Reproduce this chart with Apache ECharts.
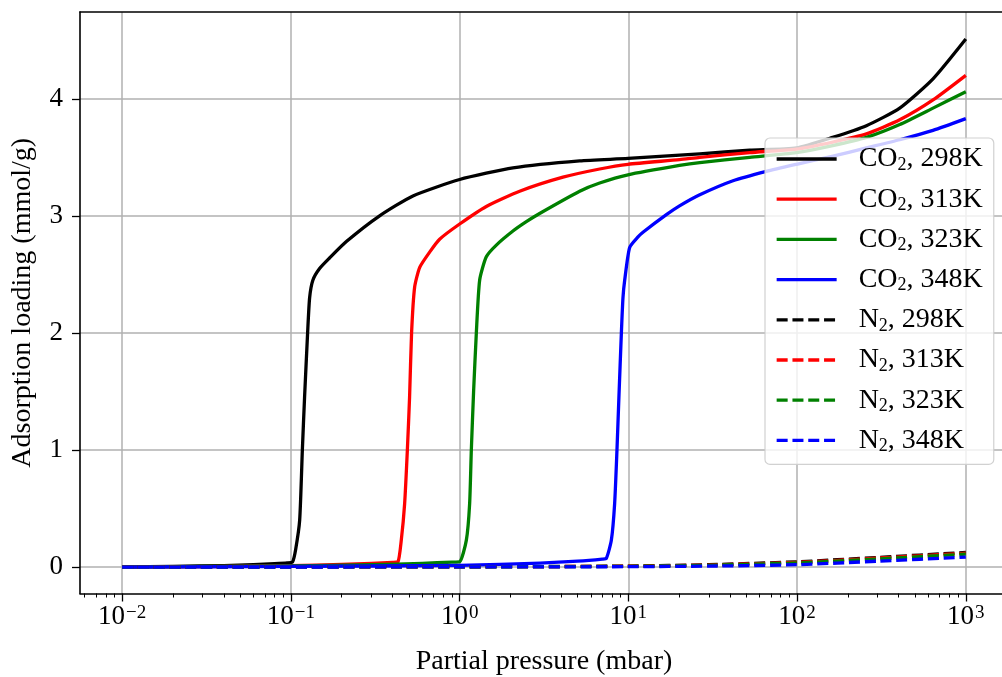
<!DOCTYPE html>
<html><head><meta charset="utf-8">
<script src="https://cdn.jsdelivr.net/npm/echarts@6/dist/echarts.min.js"></script>
<style>html,body{margin:0;padding:0;background:#fff}#c{width:1002px;height:677px}</style>
</head><body><div id="c"></div>
<script>
// [pressure (mbar), loading (mmol/g)]
const co2_298K = [[0.01,0],[0.02,0.006],[0.04,0.012],[0.06,0.02],[0.08,0.028],[0.095,0.035],[0.1023,0.045],[0.1067,0.15],[0.1127,0.40],[0.1169,1.0],[0.1205,1.45],[0.1256,2.0],[0.1291,2.30],[0.1349,2.45],[0.1479,2.55],[0.1695,2.64],[0.2131,2.78],[0.3355,3.0],[0.5286,3.17],[1.0,3.31],[2.07,3.41],[5.145,3.47],[9.95,3.49],[26.5,3.53],[52.4,3.56],[99.1,3.58],[162.6,3.67],[257.5,3.77],[405.7,3.92],[639.2,4.17],[1000,4.51]];
const co2_313K = [[0.01,0],[0.03,0.004],[0.1,0.012],[0.2,0.022],[0.3,0.032],[0.4,0.04],[0.431,0.045],[0.451,0.23],[0.472,0.54],[0.490,1.0],[0.505,1.45],[0.519,2.0],[0.541,2.39],[0.580,2.56],[0.664,2.69],[0.761,2.80],[1.0,2.93],[1.439,3.08],[2.268,3.21],[4.096,3.33],[6.76,3.40],[9.95,3.44],[20.1,3.48],[26.5,3.50],[52.4,3.54],[99.1,3.57],[162.6,3.63],[257.5,3.70],[405.7,3.82],[639.2,3.99],[1000,4.20]];
const co2_323K = [[0.01,0],[0.1,0.01],[0.3,0.02],[0.6,0.032],[0.9,0.042],[1.0,0.045],[1.096,0.23],[1.146,0.54],[1.173,1.0],[1.21,1.5],[1.256,2.0],[1.314,2.45],[1.439,2.65],[1.65,2.75],[2.07,2.87],[2.485,2.95],[2.979,3.02],[5.145,3.21],[6.76,3.28],[9.95,3.35],[20.1,3.43],[26.5,3.455],[52.4,3.50],[99.1,3.54],[162.6,3.60],[257.5,3.67],[405.7,3.78],[639.2,3.92],[1000,4.06]];
const co2_348K = [[0.01,0],[0.1,0.005],[1,0.015],[3,0.034],[5,0.05],[7,0.068],[7.41,0.075],[7.93,0.23],[8.29,0.54],[8.56,1.0],[8.79,1.45],[9.09,2.0],[9.29,2.30],[9.51,2.45],[10.18,2.73],[11.41,2.82],[12.21,2.86],[16.8,3.01],[20.1,3.085],[26.5,3.18],[41.7,3.30],[65.8,3.38],[99.1,3.44],[163.4,3.51],[257.5,3.58],[405.7,3.65],[639.2,3.73],[1000,3.83]];
const n2_298K = [[0.01,0],[1,0.002],[10,0.008],[30,0.02],[100,0.045],[300,0.082],[1000,0.125]];
const n2_313K = [[0.01,0],[1,0.002],[10,0.007],[30,0.017],[100,0.04],[300,0.076],[1000,0.118]];
const n2_323K = [[0.01,0],[1,0.0015],[10,0.006],[30,0.015],[100,0.035],[300,0.069],[1000,0.11]];
const n2_348K = [[0.01,0],[1,0.001],[10,0.003],[30,0.008],[100,0.02],[300,0.05],[1000,0.085]];

const seriesNames = ['CO₂, 298K','CO₂, 313K','CO₂, 323K','CO₂, 348K','N₂, 298K','N₂, 313K','N₂, 323K','N₂, 348K'];
const seriesData = [co2_298K, co2_313K, co2_323K, co2_348K, n2_298K, n2_313K, n2_323K, n2_348K];
const seriesColors = ['#000000','#ff0000','#008000','#0000ff','#000000','#ff0000','#008000','#0000ff'];
const seriesDashed = [false,false,false,false,true,true,true,true];

const xMajorExponents = [-2,-1,0,1,2,3];
const yTicks = [0,1,2,3,4];
const xName = 'Partial pressure (mbar)';
const yName = 'Adsorption loading (mmol/g)';

const FONT = 'Liberation Serif';
const xMin = -2.25, xMax = 3.25, yMin = -0.226, yMax = 4.741;

const minorTicks = [];
for (let n = -3; n <= 3; n++) for (let k = 2; k <= 9; k++) {
  const v = Math.log10(k) + n;
  if (v > xMin && v < xMax) minorTicks.push(v);
}

const chart = echarts.init(document.getElementById('c'), null, {renderer: 'canvas'});
const series = seriesData.map((d, i) => ({
  name: seriesNames[i], type: 'line', xAxisIndex: 0, yAxisIndex: 0,
  data: d.map(p => [Math.log10(p[0]), p[1]]),
  symbol: 'none', showSymbol: false, smooth: 0.2,
  lineStyle: {color: seriesColors[i], width: 3.3, type: seriesDashed[i] ? [11, 4.8] : 'solid', cap: 'butt', join: 'round'},
  itemStyle: {color: seriesColors[i]},
  animation: false
}));

const axisLineStyle = {color: '#000', width: 1.6};
chart.setOption({
  backgroundColor: '#fff',
  animation: false,
  grid: {left: 80, right: -6, top: 12, bottom: 83.5, containLabel: false, outerBoundsMode: 'none'},
  xAxis: [
    {type: 'value', min: xMin, max: xMax, position: 'bottom',
     axisLine: {show: true, onZero: false, lineStyle: axisLineStyle},
     axisTick: {show: true, inside: false, length: 8, customValues: xMajorExponents, lineStyle: {color: '#000', width: 1.3}},
     axisLabel: {show: true, customValues: xMajorExponents, margin: 10, color: '#000',
       formatter: v => '{b|10}{s|' + (v < 0 ? '\u2212' + (-v) : String(v)) + '}',
       rich: {
         b: {fontFamily: FONT, fontSize: 27, lineHeight: 27, verticalAlign: 'bottom', color: '#000'},
         s: {fontFamily: FONT, fontSize: 19, lineHeight: 19, verticalAlign: 'top', padding: [0, 0, 17, 1], color: '#000'}
       }},
     splitLine: {show: true, lineStyle: {color: '#b0b0b0', width: 1.5}},
     name: xName, nameLocation: 'middle', nameGap: 54,
     nameTextStyle: {fontFamily: FONT, fontSize: 28, color: '#000'}},
    {type: 'value', min: xMin, max: xMax, position: 'bottom',
     axisLine: {show: false, onZero: false},
     axisTick: {show: true, inside: false, length: 4, customValues: minorTicks, lineStyle: {color: '#000', width: 1}},
     axisLabel: {show: false}, splitLine: {show: false}},
    {type: 'value', min: xMin, max: xMax, position: 'top',
     axisLine: {show: true, onZero: false, lineStyle: axisLineStyle},
     axisTick: {show: false}, axisLabel: {show: false}, splitLine: {show: false}}
  ],
  yAxis: [
    {type: 'value', min: yMin, max: yMax, position: 'left',
     axisLine: {show: true, onZero: false, lineStyle: axisLineStyle},
     axisTick: {show: true, inside: false, length: 8, customValues: yTicks, lineStyle: {color: '#000', width: 1.3}},
     axisLabel: {show: true, customValues: yTicks, margin: 17, fontFamily: FONT, fontSize: 27, color: '#000'},
     splitLine: {show: true, lineStyle: {color: '#b0b0b0', width: 1.5}},
     name: yName, nameLocation: 'middle', nameGap: 43,
     nameTextStyle: {fontFamily: FONT, fontSize: 28, color: '#000'}}
  ],
  legend: {
    show: true, orient: 'vertical', left: 765, top: 138,
    data: seriesNames,
    padding: [6, 11, 9, 10],
    itemWidth: 60, itemHeight: 14, itemGap: 10.2,
    itemStyle: {opacity: 0, borderWidth: 0},
    lineStyle: {width: 3.3},
    backgroundColor: 'rgba(255,255,255,0.8)', borderColor: 'rgba(204,204,204,0.9)', borderWidth: 1.2, borderRadius: 5,
    formatter: name => name.replace('₂', '{sub|2}'),
    textStyle: {fontFamily: FONT, fontSize: 28, lineHeight: 30, color: '#000', padding: [0, 0, 0, 17],
      rich: {sub: {fontFamily: FONT, fontSize: 18, lineHeight: 22, verticalAlign: 'bottom', color: '#000'}}},
    selectedMode: false
  },
  series: series
});
</script>
</body></html>
